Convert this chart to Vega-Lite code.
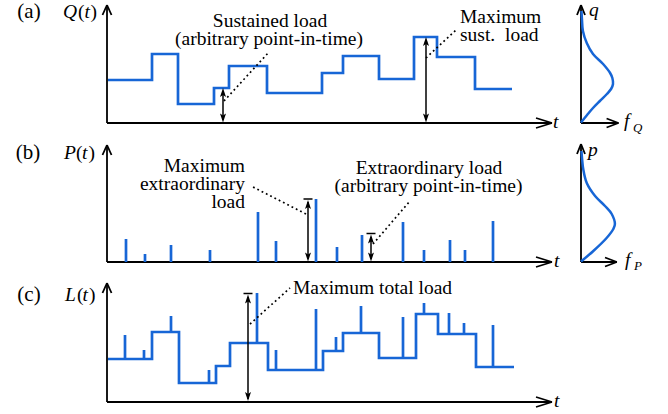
{
  "$schema": "https://vega.github.io/schema/vega-lite/v6.json",
  "padding": 0,
  "autosize": {"type": "pad"},
  "background": "white",
  "bounds": "flush",
  "spacing": 0,
  "columns": 2,
  "config": {"view": {"stroke": null}},
  "datasets": {
    "a_steps": [{"t":1,"v":43},{"t":45,"v":69},{"t":71,"v":19},{"t":107,"v":35},{"t":122,"v":57},{"t":160,"v":30},{"t":215,"v":50},{"t":236,"v":67},{"t":272,"v":44},{"t":307,"v":86},{"t":330,"v":66},{"t":368,"v":34},{"t":405,"v":34}],
    "a_axes": [{"t":0,"v":0,"t2":0,"v2":118},{"t":-4.5,"v":108,"t2":0,"v2":118},{"t":4.5,"v":108,"t2":0,"v2":118},{"t":0,"v":0,"t2":445,"v2":0},{"t":429,"v":5,"t2":445,"v2":0},{"t":429,"v":-5,"t2":445,"v2":0}],
    "a_shafts": [{"t":116,"v":3,"t2":116,"v2":32},{"t":319,"v":3,"t2":319,"v2":83}],
    "a_up": [{"t":116,"v":35},{"t":319,"v":86}],
    "a_down": [{"t":116,"v":0.5},{"t":319,"v":0.5}],
    "a_dots": [{"t":117,"v":22,"t2":162,"v2":71},{"t":319,"v":65,"t2":350,"v2":94}],
    "a_txt_c": [{"label":"Sustained load","t":163,"v":96},{"label":"(arbitrary point-in-time)","t":162,"v":78.5}],
    "a_lab": [{"label":"(a)","t":-78,"v":105}],
    "a_txt_l": [{"label":"(","t":-29,"v":105},{"label":")","t":-16.5,"v":105},{"label":"Maximum","t":353,"v":100},{"label":"sust.\u00a0 load","t":353,"v":82}],
    "a_txt_i": [{"label":"Q","t":-44,"v":105},{"label":"t","t":-22.5,"v":105},{"label":"t","t":446,"v":-5}],
    "a_side_axes": [{"t":0,"v":0,"t2":0,"v2":118},{"t":-0.125,"v":108,"t2":0,"v2":118},{"t":0.125,"v":108,"t2":0,"v2":118},{"t":0,"v":0,"t2":1.17,"v2":0},{"t":0.8,"v":4.5,"t2":1.17,"v2":0},{"t":0.8,"v":-4.5,"t2":1.17,"v2":0}],
    "a_dens": [{"t":0.0,"v":0.5},{"t":0.19,"v":8},{"t":0.375,"v":15},{"t":0.59,"v":22},{"t":0.81,"v":29},{"t":0.94,"v":34},{"t":1.0,"v":39},{"t":0.98,"v":45},{"t":0.91,"v":50},{"t":0.69,"v":59},{"t":0.375,"v":69},{"t":0.18,"v":80},{"t":0.06,"v":92},{"t":0.03,"v":104},{"t":0.015,"v":112}],
    "a_side_txt_i": [{"label":"q","t":0.25,"v":107},{"label":"f","t":1.34,"v":-4}],
    "a_side_sub": [{"label":"Q","t":1.625,"v":-9}],
    "b_spikes": [{"t":19,"v":0,"v2":23},{"t":38,"v":0,"v2":8},{"t":64,"v":0,"v2":17},{"t":103,"v":0,"v2":12},{"t":151,"v":0,"v2":50},{"t":169,"v":0,"v2":21},{"t":209,"v":0,"v2":63},{"t":230,"v":0,"v2":15},{"t":255,"v":0,"v2":27},{"t":296,"v":0,"v2":40},{"t":317,"v":0,"v2":12},{"t":343,"v":0,"v2":22},{"t":358,"v":0,"v2":12},{"t":386,"v":0,"v2":41}],
    "b_axes": [{"t":0,"v":0,"t2":0,"v2":117},{"t":-4.5,"v":107,"t2":0,"v2":117},{"t":4.5,"v":107,"t2":0,"v2":117},{"t":0,"v":0,"t2":445,"v2":0},{"t":429,"v":5,"t2":445,"v2":0},{"t":429,"v":-5,"t2":445,"v2":0}],
    "b_shafts": [{"t":201,"v":3,"t2":201,"v2":60},{"t":196.5,"v":63,"t2":205.5,"v2":63},{"t":264,"v":3,"t2":264,"v2":25},{"t":259.5,"v":28.5,"t2":268.5,"v2":28.5}],
    "b_up": [{"t":201,"v":62},{"t":264,"v":27.5}],
    "b_down": [{"t":201,"v":0.5},{"t":264,"v":0.5}],
    "b_dots": [{"t":199,"v":48,"t2":144,"v2":76},{"t":266,"v":18,"t2":303,"v2":61}],
    "b_txt_c": [{"label":"Extraordinary load","t":322,"v":88},{"label":"(arbitrary point-in-time)","t":321.5,"v":70.5}],
    "b_lab": [{"label":"(b)","t":-79,"v":103}],
    "b_txt_r": [{"label":"Maximum","t":138,"v":90},{"label":"extraordinary","t":138,"v":72.5},{"label":"load","t":138,"v":54}],
    "b_txt_l": [{"label":"(","t":-31,"v":103},{"label":")","t":-18.5,"v":103}],
    "b_txt_i": [{"label":"P","t":-43,"v":103},{"label":"t","t":-25,"v":103},{"label":"t","t":447,"v":-5}],
    "b_side_axes": [{"t":0,"v":0,"t2":0,"v2":118},{"t":-0.125,"v":108,"t2":0,"v2":118},{"t":0.125,"v":108,"t2":0,"v2":118},{"t":0,"v":0,"t2":1.12,"v2":0},{"t":0.75,"v":4.5,"t2":1.12,"v2":0},{"t":0.75,"v":-4.5,"t2":1.12,"v2":0}],
    "b_dens": [{"t":0.0,"v":0.5},{"t":0.385,"v":11},{"t":0.8,"v":24},{"t":1.01,"v":33},{"t":1.06,"v":38},{"t":0.96,"v":48},{"t":0.75,"v":56},{"t":0.44,"v":66},{"t":0.18,"v":79},{"t":0.07,"v":93},{"t":0.035,"v":103},{"t":0.015,"v":111}],
    "b_side_txt_i": [{"label":"p","t":0.22,"v":106},{"label":"f","t":1.375,"v":-4}],
    "b_side_sub": [{"label":"P","t":1.66,"v":-8}],
    "c_steps": [{"t":1,"v":43},{"t":45,"v":70},{"t":72,"v":19},{"t":109,"v":36},{"t":123,"v":59},{"t":161,"v":32},{"t":216,"v":51},{"t":236,"v":69},{"t":272,"v":44},{"t":309,"v":88},{"t":331,"v":68},{"t":369,"v":35},{"t":407,"v":35}],
    "c_spikes": [{"t":18,"v":43,"v2":67},{"t":37,"v":43,"v2":52},{"t":64,"v":70,"v2":86},{"t":102,"v":19,"v2":32},{"t":150,"v":59,"v2":109},{"t":169,"v":32,"v2":52},{"t":209,"v":32,"v2":93},{"t":229,"v":51,"v2":65},{"t":254,"v":69,"v2":96},{"t":296,"v":44,"v2":85},{"t":317,"v":88,"v2":99},{"t":342,"v":68,"v2":89},{"t":357,"v":68,"v2":79},{"t":386,"v":35,"v2":77}],
    "c_axes": [{"t":0,"v":0,"t2":0,"v2":119},{"t":-4.5,"v":109,"t2":0,"v2":119},{"t":4.5,"v":109,"t2":0,"v2":119},{"t":0,"v":0,"t2":445,"v2":0},{"t":429,"v":5,"t2":445,"v2":0},{"t":429,"v":-5,"t2":445,"v2":0}],
    "c_shafts": [{"t":141,"v":3,"t2":141,"v2":105},{"t":136.5,"v":108.5,"t2":145.5,"v2":108.5}],
    "c_up": [{"t":141,"v":107.5}],
    "c_down": [{"t":141,"v":1}],
    "c_dots": [{"t":143,"v":78,"t2":183,"v2":114}],
    "c_txt_c": [{"label":"Maximum total load","t":265.5,"v":108}],
    "c_lab": [{"label":"(c)","t":-78,"v":101}],
    "c_txt_l": [{"label":"(","t":-30,"v":101},{"label":")","t":-18,"v":101}],
    "c_txt_i": [{"label":"L","t":-42,"v":101},{"label":"t","t":-24.5,"v":101},{"label":"t","t":447,"v":-5}]
  },
  "concat": [
    {
      "width": 568, "height": 135,
      "encoding": {
        "x": {"field": "t", "type": "quantitative", "scale": {"domain": [-107, 461], "nice": false, "zero": false}, "axis": null},
        "y": {"field": "v", "type": "quantitative", "scale": {"domain": [-13, 122], "nice": false, "zero": false}, "axis": null}
      },
      "layer": [
        {"data": {"name": "a_axes"}, "mark": {"type": "rule", "color": "black", "strokeWidth": 1.8}, "encoding": {"x2": {"field": "t2"}, "y2": {"field": "v2"}}},
        {"data": {"name": "a_steps"}, "mark": {"type": "line", "interpolate": "step-after", "color": "#1766d6", "strokeWidth": 2.7}},
        {"data": {"name": "a_shafts"}, "mark": {"type": "rule", "color": "black", "strokeWidth": 1.5}, "encoding": {"x2": {"field": "t2"}, "y2": {"field": "v2"}}},
        {"data": {"name": "a_up"}, "mark": {"type": "point", "shape": "M0,0L0.6,1.8L0,1.4L-0.6,1.8Z", "filled": true, "color": "black", "opacity": 1, "size": 100, "strokeWidth": 0}},
        {"data": {"name": "a_down"}, "mark": {"type": "point", "shape": "M0,0L0.6,-1.8L0,-1.4L-0.6,-1.8Z", "filled": true, "color": "black", "opacity": 1, "size": 100, "strokeWidth": 0}},
        {"data": {"name": "a_dots"}, "mark": {"type": "rule", "color": "black", "strokeWidth": 1.7, "strokeDash": [1.8, 3]}, "encoding": {"x2": {"field": "t2"}, "y2": {"field": "v2"}}},
        {"data": {"name": "a_lab"}, "mark": {"type": "text", "font": "Liberation Serif", "fontSize": 21, "align": "center", "baseline": "alphabetic", "color": "black"}, "encoding": {"text": {"field": "label"}}},
        {"data": {"name": "a_txt_c"}, "mark": {"type": "text", "font": "Liberation Serif", "fontSize": 19.5, "align": "center", "baseline": "alphabetic", "color": "black"}, "encoding": {"text": {"field": "label"}}},
        {"data": {"name": "a_txt_l"}, "mark": {"type": "text", "font": "Liberation Serif", "fontSize": 19.5, "align": "left", "baseline": "alphabetic", "color": "black"}, "encoding": {"text": {"field": "label"}}},
        {"data": {"name": "a_txt_i"}, "mark": {"type": "text", "font": "Liberation Serif", "fontSize": 19.5, "fontStyle": "italic", "align": "left", "baseline": "alphabetic", "color": "black"}, "encoding": {"text": {"field": "label"}}}
      ]
    },
    {
      "width": 100, "height": 135,
      "encoding": {
        "x": {"field": "t", "type": "quantitative", "scale": {"domain": [-0.40625, 2.71875], "nice": false, "zero": false}, "axis": null},
        "y": {"field": "v", "type": "quantitative", "scale": {"domain": [-13, 122], "nice": false, "zero": false}, "axis": null}
      },
      "layer": [
        {"data": {"name": "a_side_axes"}, "mark": {"type": "rule", "color": "black", "strokeWidth": 1.8}, "encoding": {"x2": {"field": "t2"}, "y2": {"field": "v2"}}},
        {"data": {"name": "a_dens"}, "mark": {"type": "line", "interpolate": "catmull-rom", "color": "#1766d6", "strokeWidth": 2.5}, "encoding": {"order": {"field": "v", "type": "quantitative"}}},
        {"data": {"name": "a_side_txt_i"}, "mark": {"type": "text", "font": "Liberation Serif", "fontSize": 19.5, "fontStyle": "italic", "align": "left", "baseline": "alphabetic", "color": "black"}, "encoding": {"text": {"field": "label"}}},
        {"data": {"name": "a_side_sub"}, "mark": {"type": "text", "font": "Liberation Serif", "fontSize": 13, "fontStyle": "italic", "align": "left", "baseline": "alphabetic", "color": "black"}, "encoding": {"text": {"field": "label"}}}
      ]
    },
    {
      "width": 568, "height": 137,
      "encoding": {
        "x": {"field": "t", "type": "quantitative", "scale": {"domain": [-107, 461], "nice": false, "zero": false}, "axis": null},
        "y": {"field": "v", "type": "quantitative", "scale": {"domain": [-11, 126], "nice": false, "zero": false}, "axis": null}
      },
      "layer": [
        {"data": {"name": "b_axes"}, "mark": {"type": "rule", "color": "black", "strokeWidth": 1.8}, "encoding": {"x2": {"field": "t2"}, "y2": {"field": "v2"}}},
        {"data": {"name": "b_spikes"}, "mark": {"type": "rule", "color": "#1766d6", "strokeWidth": 2.7}, "encoding": {"y2": {"field": "v2"}}},
        {"data": {"name": "b_shafts"}, "mark": {"type": "rule", "color": "black", "strokeWidth": 1.5}, "encoding": {"x2": {"field": "t2"}, "y2": {"field": "v2"}}},
        {"data": {"name": "b_up"}, "mark": {"type": "point", "shape": "M0,0L0.6,1.8L0,1.4L-0.6,1.8Z", "filled": true, "color": "black", "opacity": 1, "size": 100, "strokeWidth": 0}},
        {"data": {"name": "b_down"}, "mark": {"type": "point", "shape": "M0,0L0.6,-1.8L0,-1.4L-0.6,-1.8Z", "filled": true, "color": "black", "opacity": 1, "size": 100, "strokeWidth": 0}},
        {"data": {"name": "b_dots"}, "mark": {"type": "rule", "color": "black", "strokeWidth": 1.7, "strokeDash": [1.8, 3]}, "encoding": {"x2": {"field": "t2"}, "y2": {"field": "v2"}}},
        {"data": {"name": "b_lab"}, "mark": {"type": "text", "font": "Liberation Serif", "fontSize": 21, "align": "center", "baseline": "alphabetic", "color": "black"}, "encoding": {"text": {"field": "label"}}},
        {"data": {"name": "b_txt_c"}, "mark": {"type": "text", "font": "Liberation Serif", "fontSize": 19.5, "align": "center", "baseline": "alphabetic", "color": "black"}, "encoding": {"text": {"field": "label"}}},
        {"data": {"name": "b_txt_r"}, "mark": {"type": "text", "font": "Liberation Serif", "fontSize": 19.5, "align": "right", "baseline": "alphabetic", "color": "black"}, "encoding": {"text": {"field": "label"}}},
        {"data": {"name": "b_txt_l"}, "mark": {"type": "text", "font": "Liberation Serif", "fontSize": 19.5, "align": "left", "baseline": "alphabetic", "color": "black"}, "encoding": {"text": {"field": "label"}}},
        {"data": {"name": "b_txt_i"}, "mark": {"type": "text", "font": "Liberation Serif", "fontSize": 19.5, "fontStyle": "italic", "align": "left", "baseline": "alphabetic", "color": "black"}, "encoding": {"text": {"field": "label"}}}
      ]
    },
    {
      "width": 100, "height": 137,
      "encoding": {
        "x": {"field": "t", "type": "quantitative", "scale": {"domain": [-0.40625, 2.71875], "nice": false, "zero": false}, "axis": null},
        "y": {"field": "v", "type": "quantitative", "scale": {"domain": [-11, 126], "nice": false, "zero": false}, "axis": null}
      },
      "layer": [
        {"data": {"name": "b_side_axes"}, "mark": {"type": "rule", "color": "black", "strokeWidth": 1.8}, "encoding": {"x2": {"field": "t2"}, "y2": {"field": "v2"}}},
        {"data": {"name": "b_dens"}, "mark": {"type": "line", "interpolate": "catmull-rom", "color": "#1766d6", "strokeWidth": 2.5}, "encoding": {"order": {"field": "v", "type": "quantitative"}}},
        {"data": {"name": "b_side_txt_i"}, "mark": {"type": "text", "font": "Liberation Serif", "fontSize": 19.5, "fontStyle": "italic", "align": "left", "baseline": "alphabetic", "color": "black"}, "encoding": {"text": {"field": "label"}}},
        {"data": {"name": "b_side_sub"}, "mark": {"type": "text", "font": "Liberation Serif", "fontSize": 13, "fontStyle": "italic", "align": "left", "baseline": "alphabetic", "color": "black"}, "encoding": {"text": {"field": "label"}}}
      ]
    },
    {
      "width": 568, "height": 142,
      "encoding": {
        "x": {"field": "t", "type": "quantitative", "scale": {"domain": [-107, 461], "nice": false, "zero": false}, "axis": null},
        "y": {"field": "v", "type": "quantitative", "scale": {"domain": [-13, 129], "nice": false, "zero": false}, "axis": null}
      },
      "layer": [
        {"data": {"name": "c_axes"}, "mark": {"type": "rule", "color": "black", "strokeWidth": 1.8}, "encoding": {"x2": {"field": "t2"}, "y2": {"field": "v2"}}},
        {"data": {"name": "c_steps"}, "mark": {"type": "line", "interpolate": "step-after", "color": "#1766d6", "strokeWidth": 2.7}},
        {"data": {"name": "c_spikes"}, "mark": {"type": "rule", "color": "#1766d6", "strokeWidth": 2.7}, "encoding": {"y2": {"field": "v2"}}},
        {"data": {"name": "c_shafts"}, "mark": {"type": "rule", "color": "black", "strokeWidth": 1.5}, "encoding": {"x2": {"field": "t2"}, "y2": {"field": "v2"}}},
        {"data": {"name": "c_up"}, "mark": {"type": "point", "shape": "M0,0L0.6,1.8L0,1.4L-0.6,1.8Z", "filled": true, "color": "black", "opacity": 1, "size": 100, "strokeWidth": 0}},
        {"data": {"name": "c_down"}, "mark": {"type": "point", "shape": "M0,0L0.6,-1.8L0,-1.4L-0.6,-1.8Z", "filled": true, "color": "black", "opacity": 1, "size": 100, "strokeWidth": 0}},
        {"data": {"name": "c_dots"}, "mark": {"type": "rule", "color": "black", "strokeWidth": 1.7, "strokeDash": [1.8, 3]}, "encoding": {"x2": {"field": "t2"}, "y2": {"field": "v2"}}},
        {"data": {"name": "c_lab"}, "mark": {"type": "text", "font": "Liberation Serif", "fontSize": 21, "align": "center", "baseline": "alphabetic", "color": "black"}, "encoding": {"text": {"field": "label"}}},
        {"data": {"name": "c_txt_c"}, "mark": {"type": "text", "font": "Liberation Serif", "fontSize": 19.5, "align": "center", "baseline": "alphabetic", "color": "black"}, "encoding": {"text": {"field": "label"}}},
        {"data": {"name": "c_txt_l"}, "mark": {"type": "text", "font": "Liberation Serif", "fontSize": 19.5, "align": "left", "baseline": "alphabetic", "color": "black"}, "encoding": {"text": {"field": "label"}}},
        {"data": {"name": "c_txt_i"}, "mark": {"type": "text", "font": "Liberation Serif", "fontSize": 19.5, "fontStyle": "italic", "align": "left", "baseline": "alphabetic", "color": "black"}, "encoding": {"text": {"field": "label"}}}
      ]
    }
  ]
}
